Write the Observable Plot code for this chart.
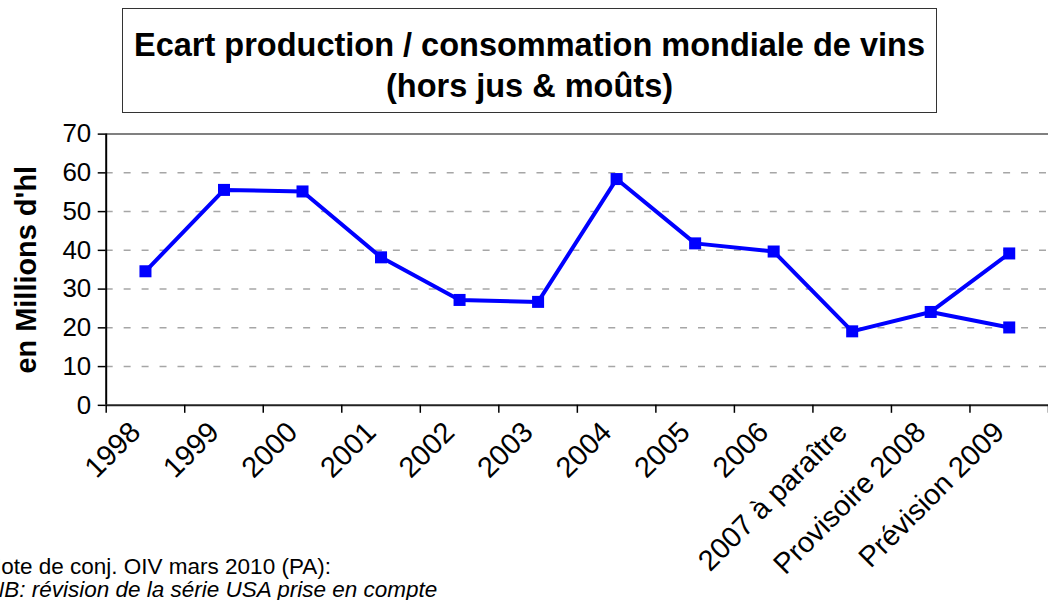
<!DOCTYPE html>
<html><head><meta charset="utf-8">
<script src="https://cdn.jsdelivr.net/npm/d3@7"></script>
<script src="https://cdn.jsdelivr.net/npm/@observablehq/plot@0.6"></script>
<style>
html,body{margin:0;padding:0;background:#fff;width:1048px;height:600px;overflow:hidden;position:relative;font-family:"Liberation Sans",Arial,sans-serif;}
#chart{position:absolute;left:0;top:0;}
#title{position:absolute;left:122px;top:8px;width:815px;height:105px;border:1px solid #333;box-sizing:border-box;text-align:center;font-weight:bold;font-size:32.5px;line-height:41px;padding-top:16px;background:#fff;white-space:nowrap;}
.note{position:absolute;font-size:22.5px;white-space:nowrap;line-height:24px;}
</style></head><body>
<div id="chart"></div>
<div id="title">Ecart production / consommation mondiale de vins<br>(hors jus &amp; moûts)</div>
<div class="note" style="top:555px;left:-15px">Note de conj. OIV mars 2010 (PA):</div>
<div class="note" style="top:578px;left:-12px;font-style:italic">NB: révision de la série USA prise en compte</div>
<script>
const categories = ["1998","1999","2000","2001","2002","2003","2004","2005","2006","2007 à paraître","Provisoire 2008","Prévision 2009"];
const values = [34.6, 55.6, 55.2, 38.2, 27.2, 26.7, 58.4, 41.8, 39.7, 19.1, 24.1, 39.2];
const branchValue2009 = 20.1;
const yTicks = [0, 10, 20, 30, 40, 50, 60, 70];

const rows = categories.map((c, i) => ({x: i + 0.5, v: values[i], label: c}));
const n = categories.length;
const branch = [
  {x: n - 2 + 0.5, v: values[n - 2]},
  {x: n - 1 + 0.5, v: branchValue2009}
];
const points = rows.concat([branch[1]]);
const blue = "#0000ff";

const chart = Plot.plot({
  width: 1051, height: 600,
  marginLeft: 106, marginRight: 0, marginTop: 134, marginBottom: 194,
  x: {type: "linear", domain: [0, n], axis: null},
  y: {domain: [0, 70], axis: null},
  style: {fontFamily: "'Liberation Sans', Arial, sans-serif", background: "#fff", color: "#000", overflow: "visible"},
  marks: [
    Plot.ruleY(yTicks.filter(t => t > 0 && t < 70), {stroke: "#a6a6a6", strokeWidth: 1.5, strokeDasharray: "7,11"}),
    Plot.ruleY([70], {stroke: "#808080", strokeWidth: 2}),
    Plot.ruleX([0], {stroke: "#000", strokeWidth: 2}),
    Plot.ruleY([0], {stroke: "#222", strokeWidth: 2}),
    Plot.axisY({ticks: yTicks, tickSize: 8, tickPadding: 7, fontSize: 26, label: null, strokeWidth: 1.5}),
    Plot.axisX({ticks: d3.range(0, n + 1), tickSize: 8, tickFormat: () => "", label: null, strokeWidth: 1.5}),
    Plot.axisX({ticks: d3.range(n).map(i => i + 0.5), tickSize: 0, tickPadding: 22, dx: -10,
      tickFormat: d => categories[Math.floor(d)], tickRotate: -45, fontSize: 29, label: null}),
    Plot.text(["en Millions d'hl"], {frameAnchor: "left", textAnchor: "middle", rotate: -90, dx: -80, fontWeight: "bold", fontSize: 29}),
    Plot.line(rows, {x: "x", y: "v", stroke: blue, strokeWidth: 4}),
    Plot.line(branch, {x: "x", y: "v", stroke: blue, strokeWidth: 4}),
    Plot.dot(points, {x: "x", y: "v", symbol: "square", r: 6.8, fill: blue, stroke: null})
  ]
});
document.getElementById("chart").appendChild(chart);
</script>
</body></html>
